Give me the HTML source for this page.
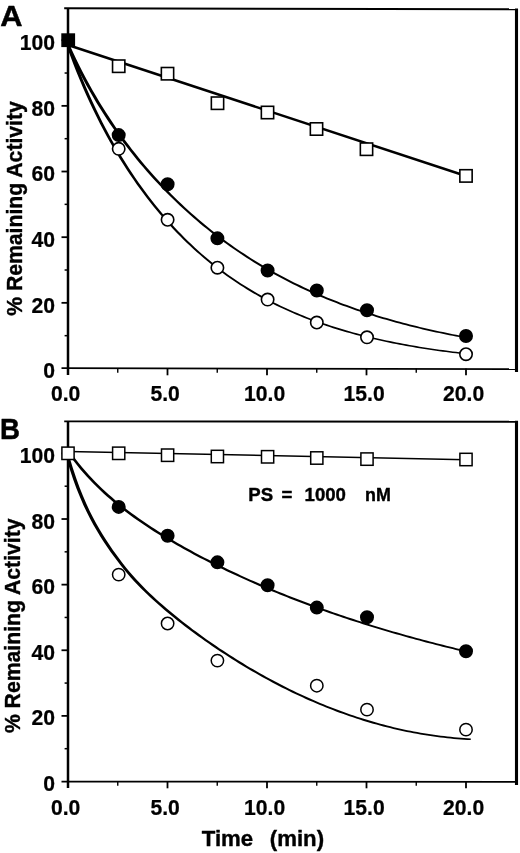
<!DOCTYPE html>
<html lang="en"><head><meta charset="utf-8"><title>Figure</title>
<style>html,body{margin:0;padding:0;background:#fff}svg{display:block;will-change:transform;filter:blur(0.35px);-webkit-font-smoothing:antialiased}text{font-family:"Liberation Sans",Arial,Helvetica,sans-serif;font-weight:bold;fill:#000;stroke:#000;stroke-linejoin:round}</style>
</head><body>
<svg width="520" height="853" viewBox="0 0 520 853">
<rect width="520" height="853" fill="#fff"/>
<g fill="none" stroke="#000" stroke-linecap="butt">
<path d="M64.2 8.30 L518.0 9.30" stroke-width="1.9"/>
<path d="M516.5 8.4 V372.0" stroke-width="3.1"/>
<path d="M68.0 8.3 V375.1" stroke-width="2.5"/>
<path d="M61.5 368.10 L517.5 369.10" stroke-width="1.75"/>
<path d="M64.6 335.67 H68.0" stroke-width="1.5"/>
<path d="M61.5 302.84 H68.0" stroke-width="1.8"/>
<path d="M64.6 270.01 H68.0" stroke-width="1.5"/>
<path d="M61.5 237.18 H68.0" stroke-width="1.8"/>
<path d="M64.6 204.35 H68.0" stroke-width="1.5"/>
<path d="M61.5 171.52 H68.0" stroke-width="1.8"/>
<path d="M64.6 138.69 H68.0" stroke-width="1.5"/>
<path d="M61.5 105.86 H68.0" stroke-width="1.8"/>
<path d="M64.6 73.03 H68.0" stroke-width="1.5"/>
<path d="M61.5 40.20 H68.0" stroke-width="1.8"/>
<path d="M117.75 368.5 V372.7" stroke-width="1.4"/>
<path d="M167.50 368.5 V375.3" stroke-width="1.8"/>
<path d="M217.25 368.5 V372.7" stroke-width="1.4"/>
<path d="M267.00 368.5 V375.3" stroke-width="1.8"/>
<path d="M316.75 368.5 V372.7" stroke-width="1.4"/>
<path d="M366.50 368.5 V375.3" stroke-width="1.8"/>
<path d="M416.25 368.5 V372.7" stroke-width="1.4"/>
<path d="M466.00 368.5 V375.3" stroke-width="1.8"/>
</g>
<text transform="translate(55.00 378.20) scale(0.970 1.000)" font-size="21.80" text-anchor="end" stroke-width="0.25" xml:space="preserve">0</text>
<text transform="translate(55.00 312.54) scale(0.970 1.000)" font-size="21.80" text-anchor="end" stroke-width="0.25" xml:space="preserve">20</text>
<text transform="translate(55.00 246.88) scale(0.970 1.000)" font-size="21.80" text-anchor="end" stroke-width="0.25" xml:space="preserve">40</text>
<text transform="translate(55.00 181.22) scale(0.970 1.000)" font-size="21.80" text-anchor="end" stroke-width="0.25" xml:space="preserve">60</text>
<text transform="translate(55.00 115.56) scale(0.970 1.000)" font-size="21.80" text-anchor="end" stroke-width="0.25" xml:space="preserve">80</text>
<text transform="translate(55.00 49.90) scale(0.970 1.000)" font-size="21.80" text-anchor="end" stroke-width="0.25" xml:space="preserve">100</text>
<text transform="translate(65.60 400.50) scale(0.970 1.000)" font-size="21.80" text-anchor="middle" stroke-width="0.25" xml:space="preserve">0.0</text>
<text transform="translate(165.10 400.50) scale(0.970 1.000)" font-size="21.80" text-anchor="middle" stroke-width="0.25" xml:space="preserve">5.0</text>
<text transform="translate(264.60 400.50) scale(0.970 1.000)" font-size="21.80" text-anchor="middle" stroke-width="0.25" xml:space="preserve">10.0</text>
<text transform="translate(364.10 400.50) scale(0.970 1.000)" font-size="21.80" text-anchor="middle" stroke-width="0.25" xml:space="preserve">15.0</text>
<text transform="translate(463.60 400.50) scale(0.970 1.000)" font-size="21.80" text-anchor="middle" stroke-width="0.25" xml:space="preserve">20.0</text>
<text transform="translate(0.30 25.90) scale(1.070 1.000)" font-size="28.80" text-anchor="start" stroke-width="0.50" xml:space="preserve">A</text>
<text transform="translate(21.70 208.50) rotate(-90) scale(0.955 1.000)" font-size="22.20" text-anchor="middle" stroke-width="0.40" xml:space="preserve">% Remaining Activity</text>
<g fill="none" stroke="#000" stroke-linejoin="round">
<path d="M68 45 L466 176" stroke-width="2.5"/>
</g>
<path d="M66.54 45.79 L69.88 53.05 L73.22 60.05 L76.55 66.80 L79.89 73.32 L83.23 79.62 L86.57 85.72 L89.91 91.62 L93.24 97.35 L96.58 102.92 L99.92 108.32 L103.26 113.57 L106.59 118.69 L109.93 123.67 L113.27 128.52 L116.61 133.25 L119.94 137.87 L123.28 142.38 L126.62 146.78 L129.95 151.08 L133.29 155.29 L136.62 159.40 L139.96 163.42 L143.29 167.36 L146.63 171.21 L149.97 174.99 L153.30 178.68 L156.64 182.30 L159.97 185.85 L163.30 189.33 L166.64 192.74 L169.97 196.08 L173.31 199.36 L176.64 202.57 L179.98 205.72 L183.31 208.81 L186.64 211.84 L189.98 214.82 L193.31 217.74 L196.64 220.60 L199.97 223.41 L203.31 226.16 L206.64 228.87 L209.97 231.53 L213.29 234.14 L216.62 236.71 L219.94 239.22 L223.27 241.69 L226.59 244.12 L229.92 246.49 L233.24 248.83 L236.57 251.12 L239.90 253.37 L243.22 255.58 L246.55 257.74 L249.87 259.87 L253.20 261.95 L256.52 264.00 L259.85 266.01 L263.17 267.98 L266.50 269.92 L269.82 271.82 L273.15 273.68 L276.47 275.51 L279.80 277.30 L283.12 279.06 L286.45 280.79 L289.77 282.49 L293.10 284.15 L296.42 285.78 L299.74 287.38 L303.07 288.96 L306.39 290.50 L309.72 292.01 L313.04 293.49 L316.37 294.95 L319.69 296.38 L323.01 297.78 L326.34 299.15 L329.66 300.50 L332.98 301.83 L336.31 303.12 L339.63 304.40 L342.95 305.65 L346.28 306.87 L349.60 308.07 L352.92 309.25 L356.24 310.41 L359.57 311.54 L362.89 312.66 L366.21 313.75 L369.53 314.82 L372.86 315.87 L376.18 316.90 L379.50 317.91 L382.82 318.90 L386.15 319.87 L389.47 320.82 L392.79 321.76 L396.11 322.68 L399.43 323.57 L402.75 324.46 L406.08 325.32 L409.40 326.17 L412.72 327.00 L416.04 327.82 L419.36 328.62 L422.68 329.40 L426.00 330.17 L429.32 330.93 L432.64 331.67 L435.96 332.39 L439.29 333.11 L442.61 333.80 L445.93 334.49 L449.25 335.16 L452.57 335.82 L455.89 336.46 L459.21 337.10 L462.53 337.72 L465.85 338.33 L466.15 336.65 L462.84 336.04 L459.53 335.42 L456.21 334.78 L452.90 334.13 L449.59 333.47 L446.27 332.79 L442.96 332.10 L439.65 331.40 L436.34 330.69 L433.02 329.96 L429.71 329.21 L426.40 328.46 L423.09 327.68 L419.77 326.89 L416.46 326.09 L413.15 325.27 L409.84 324.44 L406.52 323.59 L403.21 322.72 L399.90 321.83 L396.59 320.93 L393.28 320.01 L389.97 319.08 L386.65 318.12 L383.34 317.15 L380.03 316.15 L376.72 315.14 L373.41 314.11 L370.10 313.06 L366.79 311.98 L363.48 310.89 L360.17 309.78 L356.86 308.64 L353.54 307.48 L350.23 306.30 L346.92 305.10 L343.61 303.88 L340.30 302.63 L336.99 301.35 L333.68 300.05 L330.37 298.73 L327.06 297.38 L323.75 296.01 L320.44 294.61 L317.13 293.18 L313.83 291.72 L310.52 290.24 L307.21 288.73 L303.90 287.19 L300.59 285.62 L297.28 284.02 L293.97 282.39 L290.66 280.73 L287.35 279.03 L284.04 277.31 L280.74 275.55 L277.43 273.76 L274.12 271.93 L270.81 270.07 L267.50 268.18 L264.19 266.25 L260.89 264.28 L257.58 262.27 L254.27 260.23 L250.96 258.15 L247.65 256.03 L244.35 253.87 L241.04 251.67 L237.73 249.42 L234.42 247.14 L231.11 244.81 L227.81 242.44 L224.50 240.02 L221.19 237.56 L217.88 235.05 L214.58 232.49 L211.27 229.89 L207.96 227.24 L204.66 224.52 L201.36 221.76 L198.06 218.94 L194.76 216.08 L191.46 213.15 L188.16 210.17 L184.86 207.14 L181.56 204.04 L178.26 200.89 L174.96 197.67 L171.66 194.39 L168.36 191.05 L165.06 187.64 L161.76 184.16 L158.46 180.61 L155.17 176.99 L151.87 173.30 L148.57 169.53 L145.27 165.67 L141.97 161.74 L138.68 157.72 L135.38 153.62 L132.08 149.42 L128.78 145.12 L125.49 140.73 L122.19 136.23 L118.89 131.63 L115.60 126.91 L112.30 122.07 L109.01 117.10 L105.71 112.00 L102.41 106.77 L99.12 101.38 L95.82 95.84 L92.53 90.13 L89.23 84.24 L85.94 78.17 L82.64 71.89 L79.35 65.40 L76.05 58.68 L72.76 51.71 L69.46 44.46Z" fill="#000"/>
<path d="M66.54 45.65 L69.88 54.86 L73.21 63.69 L76.55 72.16 L79.89 80.31 L83.23 88.15 L86.56 95.71 L89.90 102.99 L93.24 110.03 L96.58 116.84 L99.91 123.42 L103.25 129.80 L106.59 135.97 L109.93 141.96 L113.27 147.78 L116.60 153.42 L119.94 158.91 L123.28 164.24 L126.62 169.42 L129.95 174.46 L133.29 179.36 L136.63 184.14 L139.97 188.78 L143.30 193.31 L146.64 197.72 L149.98 202.01 L153.31 206.20 L156.65 210.28 L159.99 214.25 L163.33 218.12 L166.66 221.90 L170.00 225.58 L173.34 229.17 L176.67 232.67 L180.01 236.08 L183.34 239.41 L186.68 242.66 L190.02 245.82 L193.35 248.91 L196.69 251.92 L200.02 254.85 L203.36 257.72 L206.69 260.51 L210.02 263.24 L213.35 265.90 L216.67 268.50 L220.00 271.03 L223.33 273.51 L226.66 275.92 L229.98 278.27 L233.31 280.56 L236.64 282.79 L239.96 284.97 L243.29 287.10 L246.62 289.17 L249.94 291.19 L253.27 293.17 L256.60 295.09 L259.92 296.96 L263.25 298.79 L266.58 300.57 L269.90 302.31 L273.23 304.00 L276.55 305.65 L279.88 307.26 L283.21 308.83 L286.53 310.36 L289.86 311.85 L293.18 313.31 L296.51 314.73 L299.83 316.11 L303.16 317.46 L306.48 318.77 L309.81 320.05 L313.13 321.30 L316.46 322.51 L319.78 323.70 L323.10 324.86 L326.43 325.98 L329.75 327.08 L333.07 328.15 L336.40 329.19 L339.72 330.21 L343.04 331.20 L346.37 332.17 L349.69 333.11 L353.01 334.03 L356.34 334.92 L359.66 335.79 L362.98 336.64 L366.30 337.47 L369.62 338.27 L372.95 339.06 L376.27 339.83 L379.59 340.57 L382.91 341.30 L386.23 342.01 L389.55 342.70 L392.87 343.38 L396.20 344.03 L399.52 344.67 L402.84 345.29 L406.16 345.90 L409.48 346.49 L412.80 347.07 L416.12 347.63 L419.44 348.18 L422.76 348.71 L426.08 349.24 L429.40 349.74 L432.72 350.24 L436.04 350.72 L439.36 351.19 L442.68 351.64 L446.00 352.09 L449.32 352.52 L452.64 352.95 L455.96 353.36 L459.28 353.76 L462.60 354.15 L465.91 354.53 L466.09 353.04 L462.77 352.66 L459.46 352.26 L456.14 351.85 L452.83 351.44 L449.51 351.01 L446.20 350.57 L442.89 350.12 L439.57 349.66 L436.26 349.19 L432.95 348.70 L429.63 348.20 L426.32 347.69 L423.01 347.17 L419.69 346.63 L416.38 346.08 L413.07 345.51 L409.75 344.93 L406.44 344.34 L403.13 343.72 L399.82 343.10 L396.50 342.45 L393.19 341.79 L389.88 341.12 L386.57 340.42 L383.26 339.71 L379.94 338.98 L376.63 338.23 L373.32 337.46 L370.01 336.67 L366.70 335.86 L363.39 335.03 L360.08 334.18 L356.76 333.31 L353.45 332.41 L350.14 331.49 L346.83 330.55 L343.52 329.58 L340.21 328.59 L336.90 327.57 L333.59 326.53 L330.28 325.45 L326.97 324.36 L323.66 323.23 L320.35 322.07 L317.04 320.89 L313.74 319.67 L310.43 318.42 L307.12 317.14 L303.81 315.83 L300.50 314.48 L297.19 313.10 L293.88 311.69 L290.58 310.24 L287.27 308.75 L283.96 307.22 L280.65 305.65 L277.35 304.04 L274.04 302.40 L270.73 300.71 L267.42 298.97 L264.12 297.20 L260.81 295.37 L257.50 293.50 L254.20 291.59 L250.89 289.62 L247.58 287.61 L244.28 285.54 L240.97 283.42 L237.66 281.25 L234.36 279.02 L231.05 276.74 L227.74 274.40 L224.44 271.99 L221.13 269.53 L217.83 267.01 L214.52 264.42 L211.21 261.77 L207.91 259.05 L204.61 256.25 L201.31 253.38 L198.01 250.44 L194.72 247.43 L191.42 244.34 L188.12 241.17 L184.82 237.92 L181.53 234.59 L178.23 231.18 L174.93 227.68 L171.63 224.09 L168.34 220.41 L165.04 216.63 L161.74 212.76 L158.45 208.79 L155.15 204.72 L151.86 200.54 L148.56 196.25 L145.26 191.85 L141.97 187.34 L138.67 182.70 L135.38 177.93 L132.08 173.04 L128.78 168.01 L125.49 162.84 L122.19 157.52 L118.90 152.05 L115.60 146.42 L112.31 140.63 L109.01 134.65 L105.71 128.49 L102.42 122.14 L99.12 115.57 L95.83 108.79 L92.53 101.77 L89.24 94.51 L85.94 86.98 L82.65 79.17 L79.35 71.05 L76.05 62.60 L72.76 53.80 L69.46 44.60Z" fill="#000"/>
<rect x="62.10" y="34.10" width="12.20" height="12.20" fill="#000" stroke="#000" stroke-width="1.6"/>
<rect x="112.55" y="60.00" width="12.30" height="12.40" fill="#fff" stroke="#000" stroke-width="1.6"/>
<rect x="161.35" y="67.50" width="12.30" height="12.40" fill="#fff" stroke="#000" stroke-width="1.6"/>
<rect x="211.35" y="97.00" width="12.30" height="12.40" fill="#fff" stroke="#000" stroke-width="1.6"/>
<rect x="261.35" y="106.30" width="12.30" height="12.40" fill="#fff" stroke="#000" stroke-width="1.6"/>
<rect x="310.35" y="122.80" width="12.30" height="12.40" fill="#fff" stroke="#000" stroke-width="1.6"/>
<rect x="360.35" y="143.00" width="12.30" height="12.40" fill="#fff" stroke="#000" stroke-width="1.6"/>
<rect x="459.85" y="169.70" width="12.30" height="12.40" fill="#fff" stroke="#000" stroke-width="1.6"/>
<circle cx="118.70" cy="135.08" r="6.20" fill="#000" stroke="#000" stroke-width="1.6"/>
<circle cx="167.60" cy="184.32" r="6.20" fill="#000" stroke="#000" stroke-width="1.6"/>
<circle cx="217.40" cy="238.33" r="6.20" fill="#000" stroke="#000" stroke-width="1.6"/>
<circle cx="267.60" cy="270.50" r="6.20" fill="#000" stroke="#000" stroke-width="1.6"/>
<circle cx="316.80" cy="290.53" r="6.20" fill="#000" stroke="#000" stroke-width="1.6"/>
<circle cx="367.00" cy="310.23" r="6.20" fill="#000" stroke="#000" stroke-width="1.6"/>
<circle cx="466.00" cy="336.00" r="6.20" fill="#000" stroke="#000" stroke-width="1.6"/>
<circle cx="118.70" cy="148.87" r="6.20" fill="#fff" stroke="#000" stroke-width="1.6"/>
<circle cx="167.60" cy="219.78" r="6.20" fill="#fff" stroke="#000" stroke-width="1.6"/>
<circle cx="217.40" cy="267.71" r="6.20" fill="#fff" stroke="#000" stroke-width="1.6"/>
<circle cx="267.60" cy="299.56" r="6.20" fill="#fff" stroke="#000" stroke-width="1.6"/>
<circle cx="316.80" cy="322.54" r="6.20" fill="#fff" stroke="#000" stroke-width="1.6"/>
<circle cx="367.00" cy="337.31" r="6.20" fill="#fff" stroke="#000" stroke-width="1.6"/>
<circle cx="466.00" cy="354.22" r="6.20" fill="#fff" stroke="#000" stroke-width="1.6"/>
<g fill="none" stroke="#000" stroke-linecap="butt">
<path d="M64.2 421.40 L518.0 421.70" stroke-width="1.9"/>
<path d="M516.5 420.8 V785.0" stroke-width="3.1"/>
<path d="M68.0 421.4 V788.1" stroke-width="2.5"/>
<path d="M61.5 781.52 L517.5 781.82" stroke-width="1.75"/>
<path d="M64.6 748.69 H68.0" stroke-width="1.5"/>
<path d="M61.5 715.88 H68.0" stroke-width="1.8"/>
<path d="M64.6 683.07 H68.0" stroke-width="1.5"/>
<path d="M61.5 650.26 H68.0" stroke-width="1.8"/>
<path d="M64.6 617.45 H68.0" stroke-width="1.5"/>
<path d="M61.5 584.64 H68.0" stroke-width="1.8"/>
<path d="M64.6 551.83 H68.0" stroke-width="1.5"/>
<path d="M61.5 519.02 H68.0" stroke-width="1.8"/>
<path d="M64.6 486.21 H68.0" stroke-width="1.5"/>
<path d="M61.5 453.40 H68.0" stroke-width="1.8"/>
<path d="M117.75 781.5 V785.7" stroke-width="1.4"/>
<path d="M167.50 781.5 V788.3" stroke-width="1.8"/>
<path d="M217.25 781.5 V785.7" stroke-width="1.4"/>
<path d="M267.00 781.5 V788.3" stroke-width="1.8"/>
<path d="M316.75 781.5 V785.7" stroke-width="1.4"/>
<path d="M366.50 781.5 V788.3" stroke-width="1.8"/>
<path d="M416.25 781.5 V785.7" stroke-width="1.4"/>
<path d="M466.00 781.5 V788.3" stroke-width="1.8"/>
</g>
<text transform="translate(55.00 791.00) scale(0.970 1.000)" font-size="21.80" text-anchor="end" stroke-width="0.25" xml:space="preserve">0</text>
<text transform="translate(55.00 725.38) scale(0.970 1.000)" font-size="21.80" text-anchor="end" stroke-width="0.25" xml:space="preserve">20</text>
<text transform="translate(55.00 659.76) scale(0.970 1.000)" font-size="21.80" text-anchor="end" stroke-width="0.25" xml:space="preserve">40</text>
<text transform="translate(55.00 594.14) scale(0.970 1.000)" font-size="21.80" text-anchor="end" stroke-width="0.25" xml:space="preserve">60</text>
<text transform="translate(55.00 528.52) scale(0.970 1.000)" font-size="21.80" text-anchor="end" stroke-width="0.25" xml:space="preserve">80</text>
<text transform="translate(55.00 462.90) scale(0.970 1.000)" font-size="21.80" text-anchor="end" stroke-width="0.25" xml:space="preserve">100</text>
<text transform="translate(65.60 814.70) scale(0.970 1.000)" font-size="21.80" text-anchor="middle" stroke-width="0.25" xml:space="preserve">0.0</text>
<text transform="translate(165.10 814.70) scale(0.970 1.000)" font-size="21.80" text-anchor="middle" stroke-width="0.25" xml:space="preserve">5.0</text>
<text transform="translate(264.60 814.70) scale(0.970 1.000)" font-size="21.80" text-anchor="middle" stroke-width="0.25" xml:space="preserve">10.0</text>
<text transform="translate(364.10 814.70) scale(0.970 1.000)" font-size="21.80" text-anchor="middle" stroke-width="0.25" xml:space="preserve">15.0</text>
<text transform="translate(463.60 814.70) scale(0.970 1.000)" font-size="21.80" text-anchor="middle" stroke-width="0.25" xml:space="preserve">20.0</text>
<text transform="translate(0.10 439.30) scale(0.960 1.000)" font-size="28.80" text-anchor="start" stroke-width="0.50" xml:space="preserve">B</text>
<text transform="translate(19.50 625.80) rotate(-90) scale(0.955 1.000)" font-size="22.20" text-anchor="middle" stroke-width="0.40" xml:space="preserve">% Remaining Activity</text>
<g fill="none" stroke="#000" stroke-linejoin="round">
<path d="M68 451.4 L466 459.8" stroke-width="1.5"/>
</g>
<path d="M66.86 451.78 L70.19 456.42 L73.53 460.86 L76.88 465.10 L80.22 469.16 L83.56 473.04 L86.90 476.77 L90.24 480.35 L93.58 483.80 L96.91 487.12 L100.25 490.33 L103.59 493.43 L106.93 496.43 L110.26 499.34 L113.60 502.17 L116.93 504.91 L120.27 507.59 L123.60 510.19 L126.93 512.73 L130.27 515.21 L133.60 517.63 L136.93 520.00 L140.26 522.32 L143.59 524.59 L146.92 526.81 L150.25 529.00 L153.58 531.14 L156.91 533.25 L160.23 535.32 L163.56 537.36 L166.89 539.37 L170.22 541.34 L173.54 543.28 L176.87 545.20 L180.20 547.09 L183.52 548.95 L186.85 550.79 L190.17 552.60 L193.50 554.39 L196.82 556.16 L200.15 557.90 L203.47 559.62 L206.80 561.32 L210.12 563.01 L213.44 564.68 L216.77 566.32 L220.09 567.95 L223.41 569.56 L226.73 571.15 L230.05 572.73 L233.38 574.29 L236.70 575.83 L240.02 577.35 L243.34 578.86 L246.66 580.35 L249.98 581.83 L253.31 583.29 L256.63 584.74 L259.95 586.17 L263.27 587.59 L266.59 588.99 L269.91 590.38 L273.23 591.75 L276.55 593.11 L279.88 594.46 L283.20 595.79 L286.52 597.11 L289.84 598.42 L293.16 599.72 L296.48 601.00 L299.80 602.27 L303.12 603.53 L306.44 604.77 L309.76 606.00 L313.08 607.22 L316.40 608.43 L319.72 609.63 L323.04 610.81 L326.36 611.99 L329.69 613.15 L333.01 614.30 L336.33 615.44 L339.65 616.57 L342.97 617.69 L346.29 618.79 L349.61 619.89 L352.93 620.97 L356.25 622.05 L359.57 623.11 L362.89 624.17 L366.21 625.21 L369.53 626.25 L372.85 627.27 L376.17 628.29 L379.49 629.29 L382.81 630.29 L386.13 631.27 L389.45 632.25 L392.77 633.21 L396.09 634.17 L399.41 635.12 L402.73 636.06 L406.05 636.99 L409.36 637.91 L412.68 638.82 L416.00 639.73 L419.32 640.62 L422.64 641.51 L425.96 642.39 L429.28 643.25 L432.60 644.12 L435.92 644.97 L439.24 645.81 L442.56 646.65 L445.88 647.48 L449.20 648.30 L452.52 649.11 L455.84 649.91 L459.16 650.71 L462.47 651.50 L465.79 652.28 L466.21 650.53 L462.89 649.74 L459.58 648.95 L456.26 648.15 L452.95 647.34 L449.64 646.53 L446.32 645.70 L443.01 644.87 L439.69 644.03 L436.38 643.18 L433.07 642.32 L429.75 641.46 L426.44 640.59 L423.12 639.70 L419.81 638.81 L416.50 637.92 L413.18 637.01 L409.87 636.09 L406.55 635.17 L403.24 634.23 L399.93 633.29 L396.61 632.34 L393.30 631.38 L389.99 630.41 L386.67 629.43 L383.36 628.44 L380.05 627.44 L376.73 626.43 L373.42 625.41 L370.11 624.39 L366.79 623.35 L363.48 622.30 L360.17 621.24 L356.85 620.18 L353.54 619.10 L350.23 618.01 L346.91 616.91 L343.60 615.80 L340.29 614.68 L336.97 613.55 L333.66 612.40 L330.35 611.25 L327.04 610.09 L323.72 608.91 L320.41 607.72 L317.10 606.52 L313.78 605.31 L310.47 604.09 L307.16 602.85 L303.85 601.61 L300.53 600.35 L297.22 599.08 L293.91 597.79 L290.60 596.49 L287.28 595.18 L283.97 593.86 L280.66 592.53 L277.35 591.18 L274.03 589.81 L270.72 588.44 L267.41 587.05 L264.10 585.64 L260.78 584.22 L257.47 582.79 L254.16 581.34 L250.85 579.88 L247.54 578.40 L244.23 576.91 L240.91 575.40 L237.60 573.87 L234.29 572.33 L230.98 570.77 L227.67 569.20 L224.36 567.60 L221.04 565.99 L217.73 564.36 L214.42 562.72 L211.11 561.05 L207.80 559.37 L204.49 557.66 L201.18 555.93 L197.88 554.17 L194.57 552.40 L191.26 550.60 L187.95 548.79 L184.64 546.94 L181.34 545.07 L178.03 543.18 L174.72 541.26 L171.42 539.31 L168.11 537.33 L164.80 535.32 L161.50 533.28 L158.19 531.21 L154.89 529.10 L151.58 526.95 L148.28 524.77 L144.98 522.54 L141.67 520.27 L138.37 517.95 L135.07 515.59 L131.77 513.17 L128.47 510.70 L125.17 508.17 L121.87 505.57 L118.57 502.91 L115.27 500.17 L111.97 497.36 L108.67 494.47 L105.38 491.48 L102.08 488.40 L98.79 485.21 L95.49 481.91 L92.20 478.49 L88.90 474.94 L85.61 471.24 L82.32 467.39 L79.02 463.38 L75.73 459.18 L72.44 454.78 L69.14 450.15Z" fill="#000"/>
<path d="M66.42 458.13 L69.80 469.25 L73.18 479.38 L76.56 488.63 L79.95 497.10 L83.34 504.88 L86.73 512.06 L90.12 518.74 L93.50 524.97 L96.89 530.84 L100.28 536.40 L103.66 541.69 L107.04 546.77 L110.43 551.64 L113.81 556.34 L117.19 560.87 L120.57 565.23 L123.96 569.44 L127.34 573.49 L130.72 577.38 L134.11 581.13 L137.49 584.73 L140.87 588.21 L144.25 591.58 L147.63 594.84 L151.01 598.00 L154.39 601.08 L157.77 604.09 L161.14 607.03 L164.52 609.92 L167.89 612.74 L171.26 615.51 L174.64 618.24 L178.01 620.92 L181.38 623.56 L184.75 626.16 L188.12 628.71 L191.50 631.23 L194.87 633.72 L198.24 636.17 L201.61 638.58 L204.98 640.96 L208.34 643.31 L211.71 645.64 L215.07 647.93 L218.44 650.19 L221.80 652.42 L225.16 654.62 L228.53 656.79 L231.89 658.93 L235.26 661.05 L238.62 663.13 L241.98 665.18 L245.35 667.21 L248.71 669.21 L252.07 671.17 L255.44 673.12 L258.80 675.03 L262.17 676.91 L265.53 678.77 L268.89 680.60 L272.26 682.40 L275.62 684.17 L278.99 685.92 L282.35 687.64 L285.71 689.33 L289.08 690.99 L292.44 692.63 L295.80 694.23 L299.17 695.81 L302.53 697.37 L305.90 698.89 L309.26 700.39 L312.62 701.86 L315.99 703.30 L319.35 704.72 L322.72 706.11 L326.08 707.47 L329.45 708.80 L332.81 710.11 L336.17 711.39 L339.54 712.64 L342.90 713.86 L346.27 715.06 L349.63 716.23 L352.99 717.37 L356.36 718.48 L359.72 719.57 L363.09 720.63 L366.45 721.66 L369.81 722.66 L373.18 723.64 L376.54 724.59 L379.91 725.51 L383.27 726.41 L386.64 727.28 L390.00 728.12 L393.36 728.93 L396.73 729.72 L400.09 730.48 L403.46 731.21 L406.82 731.91 L410.18 732.59 L413.55 733.24 L416.91 733.86 L420.28 734.45 L423.64 735.02 L427.00 735.56 L430.37 736.07 L433.73 736.56 L437.10 737.01 L440.46 737.44 L443.82 737.85 L447.19 738.22 L450.55 738.57 L453.91 738.89 L457.28 739.18 L460.64 739.45 L464.01 739.69 L467.37 739.90 L470.73 740.09 L470.82 738.39 L467.47 738.20 L464.12 737.99 L460.77 737.74 L457.42 737.47 L454.07 737.17 L450.72 736.85 L447.37 736.49 L444.03 736.11 L440.68 735.71 L437.33 735.27 L433.98 734.81 L430.63 734.32 L427.28 733.80 L423.93 733.26 L420.58 732.69 L417.23 732.09 L413.88 731.47 L410.54 730.81 L407.19 730.13 L403.84 729.43 L400.49 728.69 L397.14 727.93 L393.79 727.14 L390.44 726.33 L387.09 725.48 L383.74 724.61 L380.40 723.71 L377.05 722.79 L373.70 721.84 L370.35 720.86 L367.00 719.85 L363.65 718.82 L360.30 717.75 L356.95 716.67 L353.61 715.55 L350.26 714.41 L346.91 713.24 L343.56 712.04 L340.21 710.81 L336.86 709.56 L333.51 708.28 L330.16 706.97 L326.81 705.64 L323.47 704.28 L320.12 702.89 L316.77 701.47 L313.42 700.03 L310.07 698.56 L306.72 697.06 L303.37 695.53 L300.02 693.98 L296.67 692.40 L293.33 690.79 L289.98 689.16 L286.63 687.50 L283.28 685.81 L279.93 684.09 L276.58 682.34 L273.23 680.57 L269.88 678.77 L266.53 676.94 L263.18 675.08 L259.84 673.20 L256.49 671.29 L253.14 669.35 L249.79 667.38 L246.44 665.39 L243.09 663.36 L239.74 661.31 L236.39 659.23 L233.04 657.12 L229.69 654.98 L226.34 652.81 L223.00 650.61 L219.65 648.38 L216.30 646.12 L212.95 643.83 L209.60 641.51 L206.25 639.15 L202.91 636.76 L199.57 634.33 L196.23 631.87 L192.88 629.38 L189.54 626.84 L186.20 624.28 L182.86 621.67 L179.52 619.02 L176.18 616.33 L172.84 613.60 L169.50 610.82 L166.16 607.99 L162.82 605.10 L159.48 602.16 L156.15 599.15 L152.81 596.07 L149.48 592.91 L146.14 589.66 L142.81 586.31 L139.48 582.84 L136.15 579.26 L132.82 575.53 L129.49 571.66 L126.16 567.64 L122.83 563.46 L119.50 559.12 L116.17 554.61 L112.84 549.94 L109.51 545.09 L106.18 540.05 L102.85 534.80 L99.53 529.28 L96.20 523.47 L92.88 517.29 L89.55 510.69 L86.23 503.58 L82.90 495.87 L79.57 487.49 L76.25 478.32 L72.92 468.26 L69.58 457.18Z" fill="#000"/>
<rect x="61.90" y="447.10" width="12.20" height="12.40" fill="#fff" stroke="#000" stroke-width="1.5"/>
<rect x="112.60" y="447.10" width="12.20" height="12.40" fill="#fff" stroke="#000" stroke-width="1.5"/>
<rect x="161.50" y="449.00" width="12.20" height="12.40" fill="#fff" stroke="#000" stroke-width="1.5"/>
<rect x="211.30" y="450.30" width="12.20" height="12.40" fill="#fff" stroke="#000" stroke-width="1.5"/>
<rect x="261.50" y="450.60" width="12.20" height="12.40" fill="#fff" stroke="#000" stroke-width="1.5"/>
<rect x="310.70" y="451.80" width="12.20" height="12.40" fill="#fff" stroke="#000" stroke-width="1.5"/>
<rect x="360.90" y="452.90" width="12.20" height="12.40" fill="#fff" stroke="#000" stroke-width="1.5"/>
<rect x="459.90" y="453.30" width="12.20" height="12.40" fill="#fff" stroke="#000" stroke-width="1.5"/>
<circle cx="118.70" cy="506.88" r="6.20" fill="#000" stroke="#000" stroke-width="1.6"/>
<circle cx="167.60" cy="535.75" r="6.20" fill="#000" stroke="#000" stroke-width="1.6"/>
<circle cx="217.40" cy="562.33" r="6.20" fill="#000" stroke="#000" stroke-width="1.6"/>
<circle cx="267.60" cy="585.30" r="6.20" fill="#000" stroke="#000" stroke-width="1.6"/>
<circle cx="316.80" cy="607.61" r="6.20" fill="#000" stroke="#000" stroke-width="1.6"/>
<circle cx="367.00" cy="617.29" r="6.20" fill="#000" stroke="#000" stroke-width="1.6"/>
<circle cx="466.00" cy="651.24" r="6.20" fill="#000" stroke="#000" stroke-width="1.6"/>
<circle cx="118.70" cy="574.60" r="6.20" fill="#fff" stroke="#000" stroke-width="1.5"/>
<circle cx="167.60" cy="623.52" r="6.20" fill="#fff" stroke="#000" stroke-width="1.5"/>
<circle cx="217.40" cy="660.60" r="6.20" fill="#fff" stroke="#000" stroke-width="1.5"/>
<circle cx="316.80" cy="685.69" r="6.20" fill="#fff" stroke="#000" stroke-width="1.5"/>
<circle cx="367.00" cy="709.65" r="6.20" fill="#fff" stroke="#000" stroke-width="1.5"/>
<circle cx="466.00" cy="729.66" r="6.20" fill="#fff" stroke="#000" stroke-width="1.5"/>
<text transform="translate(248.30 500.60)" font-size="18.60" text-anchor="start" stroke-width="0.40" xml:space="preserve">PS</text>
<text transform="translate(281.60 500.60)" font-size="18.60" text-anchor="start" stroke-width="0.40" xml:space="preserve">=</text>
<text transform="translate(304.60 500.60)" font-size="18.60" text-anchor="start" stroke-width="0.40" xml:space="preserve">1000</text>
<text transform="translate(365.00 500.60) scale(0.960 1.000)" font-size="18.60" text-anchor="start" stroke-width="0.40" xml:space="preserve">nM</text>
<text transform="translate(201.80 846.40)" font-size="22.20" text-anchor="start" stroke-width="0.40" xml:space="preserve">Time</text>
<text transform="translate(269.80 846.40)" font-size="22.20" text-anchor="start" stroke-width="0.40" xml:space="preserve">(min)</text>
</svg></body></html>
